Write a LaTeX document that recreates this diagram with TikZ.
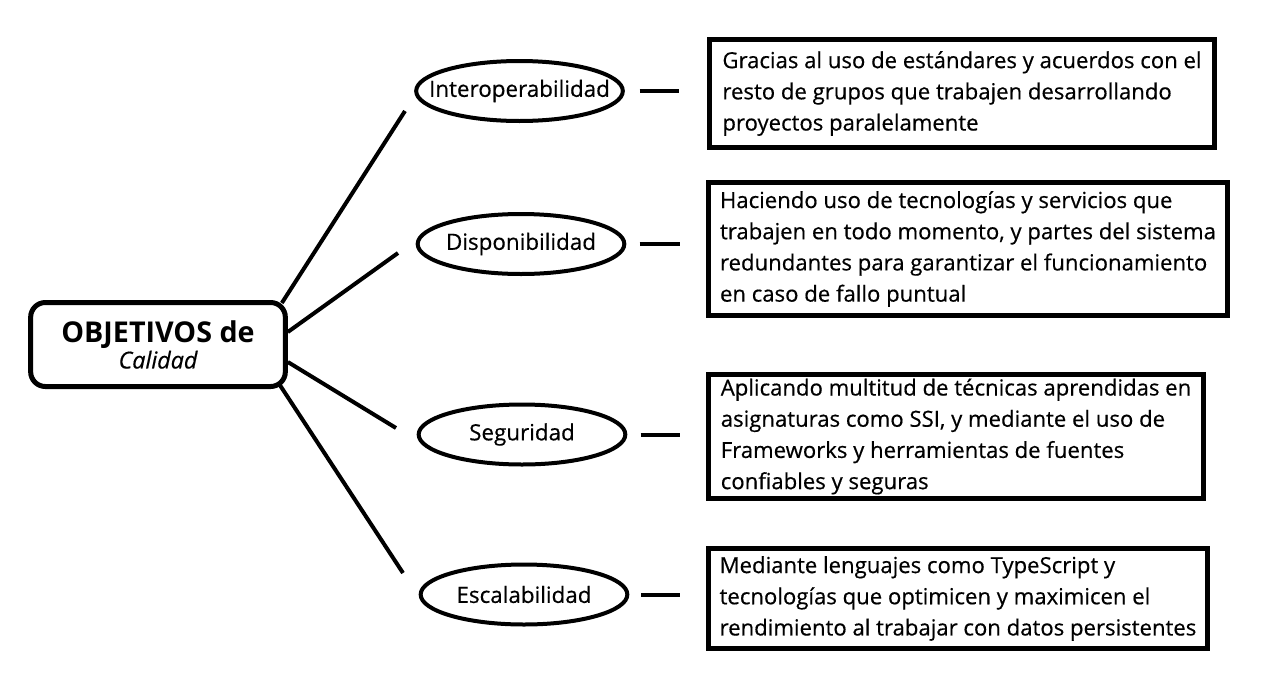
\documentclass[tikz,border=0pt]{standalone}
\usepackage{fontspec}
\setmainfont{Open Sans}
\newfontfamily\textocuadro{Open Sans}[FakeBold=0.5]
\usetikzlibrary{shapes.geometric,calc}

\begin{document}
\begin{tikzpicture}[x=0.75pt,y=-0.75pt,
    objetivo/.style={draw,rounded corners=11pt,line width=3.75pt,minimum width=191pt,minimum height=63pt,align=center},
    atributo/.style={draw,ellipse,line width=3pt,minimum width=155pt,minimum height=45pt,inner xsep=-14pt,inner ysep=0pt,font=\textocuadro\fontsize{16.8}{20}\selectfont},
    detalle/.style={draw,rectangle,line width=3.75pt,align=left,font=\textocuadro\fontsize{16.6}{23.4}\selectfont},
    enlace/.style={line width=3pt}]

    \useasboundingbox (0,0) rectangle (1277,689);

    \node [objetivo] (obj) at (158,344.5) {{\fontsize{21.5}{25.5}\selectfont\bfseries OBJETIVOS de}\\[1pt]{\textocuadro\fontsize{17.5}{20}\selectfont\itshape Calidad}};

    \node [atributo] (inter) at (519.5,91) {Interoperabilidad};
    \node [atributo] (disp) at (521,244) {Disponibilidad};
    \node [atributo] (seg) at (522,434.5) {Seguridad};
    \node [atributo] (esc) at (524,594.5) {Escalabilidad};

    \node [detalle,minimum width=379pt,minimum height=81pt] (dinter) at (962,93.5) {Gracias al uso de estándares y acuerdos con el\\resto de grupos que trabajen desarrollando\\proyectos paralelamente};
    \node [detalle,minimum width=389pt,minimum height=100pt] (ddisp) at (968,249) {Haciendo uso de tecnologías y servicios que\\trabajen en todo momento, y partes del sistema\\redundantes para garantizar el funcionamiento\\en caso de fallo puntual};
    \node [detalle,minimum width=371pt,minimum height=93pt] (dseg) at (956,436.5) {Aplicando multitud de técnicas aprendidas en\\asignaturas como SSI, y mediante el uso de\\Frameworks y herramientas de fuentes\\confiables y seguras};
    \node [detalle,minimum width=374pt,minimum height=75pt] (desc) at (958,598.5) {Mediante lenguajes como TypeScript y\\tecnologías que optimicen y maximicen el\\rendimiento al trabajar con datos persistentes};

    % extremos libres de las ramas
    \coordinate (r1) at (405,111);
    \coordinate (r2) at (398,253);
    \coordinate (r3) at (396,428);
    \coordinate (r4) at (403,573);

    \draw [enlace] ($(obj.north east)+(-6,3)$) -- (r1);
    \draw [enlace] ($(obj.east)+(0,-12.5)$) -- (r2);
    \draw [enlace] ($(obj.east)+(0,17.5)$) -- (r3);
    \draw [enlace] ($(obj.south east)+(-8,-4)$) -- (r4);

    \draw [enlace,shorten <=11pt,shorten >=21pt] (inter.east) -- (inter.east -| dinter.west);
    \draw [enlace,shorten <=10pt,shorten >=20pt] (disp.east) -- (disp.east -| ddisp.west);
    \draw [enlace,shorten <=10pt,shorten >=20pt] (seg.east) -- (seg.east -| dseg.west);
    \draw [enlace,shorten <=9pt,shorten >=20pt] (esc.east) -- (esc.east -| desc.west);
\end{tikzpicture}
\end{document}
